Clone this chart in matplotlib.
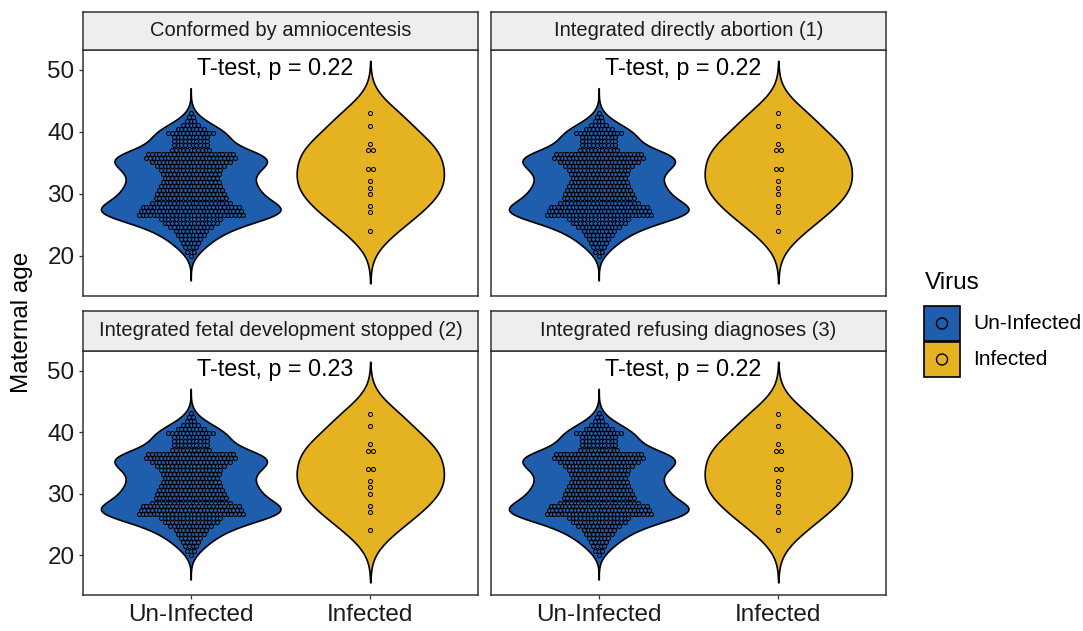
import numpy as np
import matplotlib
matplotlib.use("Agg")
import matplotlib.pyplot as plt
from matplotlib.patches import Rectangle, Circle

plt.rcParams["font.family"] = ["Liberation Sans", "DejaVu Sans"]

# ---------------- data ----------------
facet_titles = ["Conformed by amniocentesis",
                "Integrated directly abortion (1)",
                "Integrated fetal development stopped (2)",
                "Integrated refusing diagnoses (3)"]
p_labels = ["T-test, p = 0.22", "T-test, p = 0.22",
            "T-test, p = 0.23", "T-test, p = 0.22"]
groups = ["Un-Infected", "Infected"]
y_ticks = [20, 30, 40, 50]

# Un-Infected: dot-plot rows (bin centre age, number of dots)
uninf_row_ages = [43.06, 42.42, 41.77, 41.13, 40.48, 39.84, 39.19, 38.55, 37.90,
                  37.10, 36.45, 35.81, 35.16, 34.52, 33.87, 33.23, 32.58, 31.94,
                  31.29, 30.65, 30.00, 29.35, 28.55, 27.90, 27.26, 26.61, 25.97,
                  25.32, 24.68, 24.03, 23.39, 22.74, 22.10, 21.45, 20.65, 20.00]
uninf_row_counts = [1, 2, 3, 5, 8, 13, 10, 10, 10,
                    11, 24, 25, 22, 19, 17, 16, 15, 16,
                    17, 18, 19, 20, 22, 27, 28, 29, 17,
                    15, 12, 9, 8, 6, 5, 4, 3, 1]
# Infected: individual ages
infected_ages = [43, 41, 38, 37, 37, 34, 34, 32, 31, 30, 28, 27, 24]

colors = {"Un-Infected": "#1F5DAD", "Infected": "#E5B221"}

# ---------------- helpers ----------------
def kde(values, grid, bw=None):
    v = np.asarray(values, float)
    n = len(v)
    if bw is None:
        sd = v.std(ddof=1)
        iqr = np.subtract(*np.percentile(v, [75, 25]))
        bw = 0.9 * min(sd, iqr / 1.34) * n ** (-0.2)
    d = np.exp(-0.5 * ((grid[:, None] - v[None, :]) / bw) ** 2).sum(1)
    return d / (n * bw * np.sqrt(2 * np.pi)), bw

uninf_values = np.repeat(uninf_row_ages, uninf_row_counts)
inf_values = np.array(infected_ages, float)

def violin(ax, xc, values, half_width, color):
    v = np.asarray(values, float)
    _, bw = kde(v, np.array([v.mean()]))
    grid = np.linspace(v.min() - 3 * bw, v.max() + 3 * bw, 512)
    dens, _ = kde(v, grid, bw)
    w = dens / dens.max() * half_width
    ax.fill_betweenx(grid, xc - w, xc + w, facecolor=color,
                     edgecolor="black", linewidth=1.2, zorder=2)

PX_PER_UNIT = 179.3
dx = 3.7 / PX_PER_UNIT

def dots(ax, xc, ages, counts, color, step):
    xs, ys = [], []
    for a, c in zip(ages, counts):
        off = (np.arange(c) - (c - 1) / 2) * step
        xs.extend(xc + off)
        ys.extend([a] * c)
    ax.scatter(xs, ys, s=8.5, facecolor=color, edgecolor="black",
               linewidths=0.75, zorder=3)

# ---------------- figure ----------------
W, H = 1083, 631
fig = plt.figure(figsize=(W / 100, H / 100), dpi=100)

panel_x = [83, 491]
panel_w = 395
top_rows = [(12, 50, 296), (311, 351, 595)]   # strip top, panel top, panel bottom

inf_ages_u, inf_counts = np.unique(inf_values, return_counts=True)

for i in range(4):
    r, c = divmod(i, 2)
    st, pt, pb = top_rows[r]
    x0 = panel_x[c]
    ax = fig.add_axes([x0 / W, 1 - pb / H, panel_w / W, (pb - pt) / H])
    sax = fig.add_axes([x0 / W, 1 - pt / H, panel_w / W, (pt - st) / H])
    sax.set_facecolor("#EEEEEE")
    sax.set_xticks([]); sax.set_yticks([])
    for s in sax.spines.values():
        s.set_color("#333333"); s.set_linewidth(1.1)
    sax.text(0.5, 0.5, facet_titles[i], ha="center", va="center",
             fontsize=14.5, color="#1a1a1a", transform=sax.transAxes)

    violin(ax, 1, uninf_values, 0.50, colors["Un-Infected"])
    violin(ax, 2, inf_values, 0.41, colors["Infected"])
    dots(ax, 1, uninf_row_ages, uninf_row_counts, colors["Un-Infected"], dx)
    dots(ax, 2, inf_ages_u, inf_counts, colors["Infected"], 4.6 / PX_PER_UNIT)

    ax.text(1.47, 50.2, p_labels[i], ha="center", va="center",
            fontsize=16.8, color="black")

    ax.set_xlim(0.4, 2.6)
    ax.set_ylim(13.5, 53.2)
    ax.set_xticks([1, 2])
    ax.set_yticks(y_ticks)
    for s in ax.spines.values():
        s.set_color("#333333"); s.set_linewidth(1.1)
    ax.tick_params(axis="both", length=3.2, width=0.9, color="#333333",
                   labelsize=17.5, labelcolor="#1a1a1a", pad=3)
    if r == 1:
        ax.set_xticklabels(groups)
    else:
        ax.tick_params(axis="x", bottom=False, labelbottom=False)
    if c == 1:
        ax.tick_params(axis="y", left=False, labelleft=False)

fig.text(22 / W, 1 - 322.5 / H, "Maternal age", rotation=90,
         ha="center", va="center", fontsize=17.5, color="black")

# legend
lax = fig.add_axes([0, 0, 1, 1])
lax.set_xlim(0, W); lax.set_ylim(H, 0); lax.axis("off")
lax.text(925, 283, "Virus", ha="left", va="center", fontsize=17.5)
for k, (g, yk) in enumerate(zip(groups, [306, 342])):
    lax.add_patch(Rectangle((924, yk), 36, 35, facecolor=colors[g],
                            edgecolor="black", linewidth=1.2))
    lax.add_patch(Circle((942, yk + 17.5), 5.5, facecolor=colors[g],
                         edgecolor="black", linewidth=1.0))
    lax.text(973, yk + 17.5, g, ha="left", va="center", fontsize=15)

fig.savefig("out.png", dpi=100)
